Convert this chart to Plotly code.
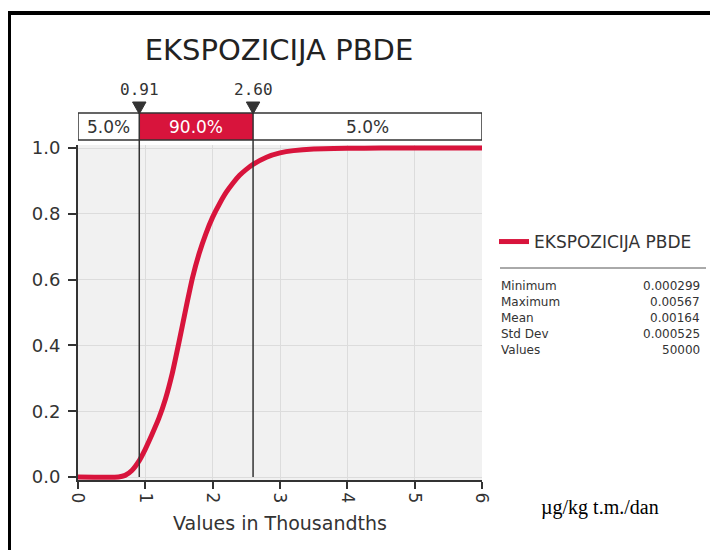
import plotly.graph_objects as go

# ---- data (values in thousandths) ----
x_vals = [0.0, 0.6, 0.7, 0.8, 0.91, 1.0, 1.1, 1.2, 1.3, 1.4, 1.5, 1.6, 1.7, 1.8, 1.9,
          2.0, 2.1, 2.2, 2.3, 2.4, 2.5, 2.6, 2.8, 3.0, 3.2, 3.5, 4.0, 4.5, 6.0]
cdf_vals = [0.0, 0.0, 0.005, 0.02, 0.05, 0.085, 0.13, 0.178, 0.238, 0.315, 0.41, 0.51,
            0.605, 0.68, 0.74, 0.79, 0.83, 0.865, 0.893, 0.917, 0.935, 0.95, 0.972,
            0.985, 0.992, 0.997, 0.999, 1.0, 1.0]
series_name = "EKSPOZICIJA PBDE"
left_mark = 0.91
right_mark = 2.60
band_labels = ["5.0%", "90.0%", "5.0%"]
stat_names = ["Minimum", "Maximum", "Mean", "Std Dev", "Values"]
stat_values = ["0.000299", "0.00567", "0.00164", "0.000525", "50000"]
x_ticks = [0, 1, 2, 3, 4, 5, 6]
y_ticks = [0.0, 0.2, 0.4, 0.6, 0.8, 1.0]

RED = "#d8143c"
DARK = "#333333"
FONT = "DejaVu Sans"

OFF = 8  # default page margin of the html body
W, H = 718 - OFF, 550 - OFF
# plot area in page pixels: x 78..482, y 145..480
L = 78 - OFF
T = 145 - OFF
R = W - (482 - OFF)
B = H - (480 - OFF)
PH = H - T - B
PW = W - L - R


def py(p):  # page pixel y -> paper y
    return (H - B - (p - OFF)) / PH


def px(p):  # page pixel x -> paper x
    return ((p - OFF) - L) / PW


fig = go.Figure()
fig.add_trace(go.Scatter(x=x_vals, y=cdf_vals, mode="lines", name=series_name,
                         line=dict(color=RED, width=5, shape="spline", smoothing=0.4),
                         showlegend=True))

shapes = []
annotations = []

# band box
shapes.append(dict(type="rect", xref="x", yref="paper", x0=left_mark, x1=right_mark,
                   y0=py(140), y1=py(113), fillcolor=RED, line=dict(width=0), layer="above"))
shapes.append(dict(type="rect", xref="x", yref="paper", x0=x_ticks[0], x1=x_ticks[-1],
                   y0=py(140), y1=py(113), fillcolor="rgba(0,0,0,0)",
                   line=dict(color=DARK, width=1.5), layer="above"))
# vertical marker lines
for m in (left_mark, right_mark):
    shapes.append(dict(type="line", xref="x", yref="paper", x0=m, x1=m,
                       y0=py(477), y1=py(113), line=dict(color=DARK, width=1.5), layer="above"))
    shapes.append(dict(type="path", xref="x", yref="paper",
                       path=f"M {m-0.1} {py(102)} L {m+0.1} {py(102)} L {m} {py(114)} Z",
                       fillcolor="#333333", line=dict(color="#333333", width=1), layer="above"))
    annotations.append(dict(x=m, y=py(89), xref="x", yref="paper", text=f"{m:.2f}",
                            showarrow=False,
                            font=dict(family="DejaVu Sans Mono", size=16, color=DARK),
                            xanchor="center", yanchor="middle"))

band_centers = [(x_ticks[0] + left_mark) / 2, (left_mark + right_mark) / 2,
                (right_mark + x_ticks[-1]) / 2]
band_colors = [DARK, "white", DARK]
for c, t, col in zip(band_centers, band_labels, band_colors):
    annotations.append(dict(x=c, y=py(127), xref="x", yref="paper", text=t, showarrow=False,
                            font=dict(family=FONT, size=17, color=col),
                            xanchor="center", yanchor="middle"))

# stats table
shapes.append(dict(type="line", xref="paper", yref="paper", x0=px(500), x1=px(706),
                   y0=py(268), y1=py(268), line=dict(color="#555555", width=1)))
for i, (n, v) in enumerate(zip(stat_names, stat_values)):
    yy = py(286 + 16 * i)
    annotations.append(dict(x=px(499), y=yy, xref="paper", yref="paper", text=n,
                            showarrow=False, font=dict(family=FONT, size=12, color=DARK),
                            xanchor="left", yanchor="middle"))
    annotations.append(dict(x=px(702), y=yy, xref="paper", yref="paper", text=v,
                            showarrow=False, font=dict(family=FONT, size=12, color=DARK),
                            xanchor="right", yanchor="middle"))

# unit text
annotations.append(dict(x=px(600), y=py(507), xref="paper", yref="paper",
                        text="µg/kg t.m./dan", showarrow=False,
                        font=dict(family="Liberation Serif", size=20, color="black"),
                        xanchor="center", yanchor="middle"))

# frame (top and left black border)
shapes.append(dict(type="line", xref="paper", yref="paper", x0=px(7), x1=px(718),
                   y0=py(13), y1=py(13), line=dict(color="black", width=4)))
shapes.append(dict(type="line", xref="paper", yref="paper", x0=px(9.5), x1=px(9.5),
                   y0=py(11), y1=py(550), line=dict(color="black", width=3)))

fig.update_layout(
    width=W, height=H,
    margin=dict(l=L, r=R, t=T, b=B, autoexpand=False),
    paper_bgcolor="white",
    plot_bgcolor="#f1f1f1",
    title=dict(text=series_name, xref="paper", x=px(279), xanchor="center",
               yref="container", y=1 - (50 - OFF) / H, yanchor="middle",
               font=dict(family=FONT, size=29, color="#222222")),
    xaxis=dict(range=[x_ticks[0], x_ticks[-1]], tickvals=x_ticks, tickangle=90,
               showgrid=True, gridcolor="#dcdcdc", gridwidth=1,
               showline=True, linecolor=DARK, linewidth=2, ticks="outside", ticklen=7,
               tickcolor=DARK, tickwidth=1.5, zeroline=False,
               tickfont=dict(family=FONT, size=17, color=DARK),
               title=dict(text="Values in Thousandths", standoff=14,
                          font=dict(family=FONT, size=19, color=DARK))),
    yaxis=dict(range=[-3 / 329, 1 + 3 / 329], tickvals=y_ticks, tickformat=".1f",
               showgrid=True, gridcolor="#dcdcdc", gridwidth=1,
               showline=True, linecolor=DARK, linewidth=2, ticks="outside", ticklen=8,
               tickcolor=DARK, tickwidth=1.5, zeroline=False, ticklabelstandoff=4,
               tickfont=dict(family=FONT, size=18, color=DARK)),
    legend=dict(x=px(494), y=py(242), xanchor="left", yanchor="middle",
                font=dict(family=FONT, size=17, color=DARK), bgcolor="rgba(0,0,0,0)",
                itemwidth=30),
    shapes=shapes,
    annotations=annotations,
)

fig.write_html("out.html", config={"displayModeBar": False},
               post_script="document.documentElement.style.overflow='hidden';"
                           "document.body.style.overflow='hidden';")
